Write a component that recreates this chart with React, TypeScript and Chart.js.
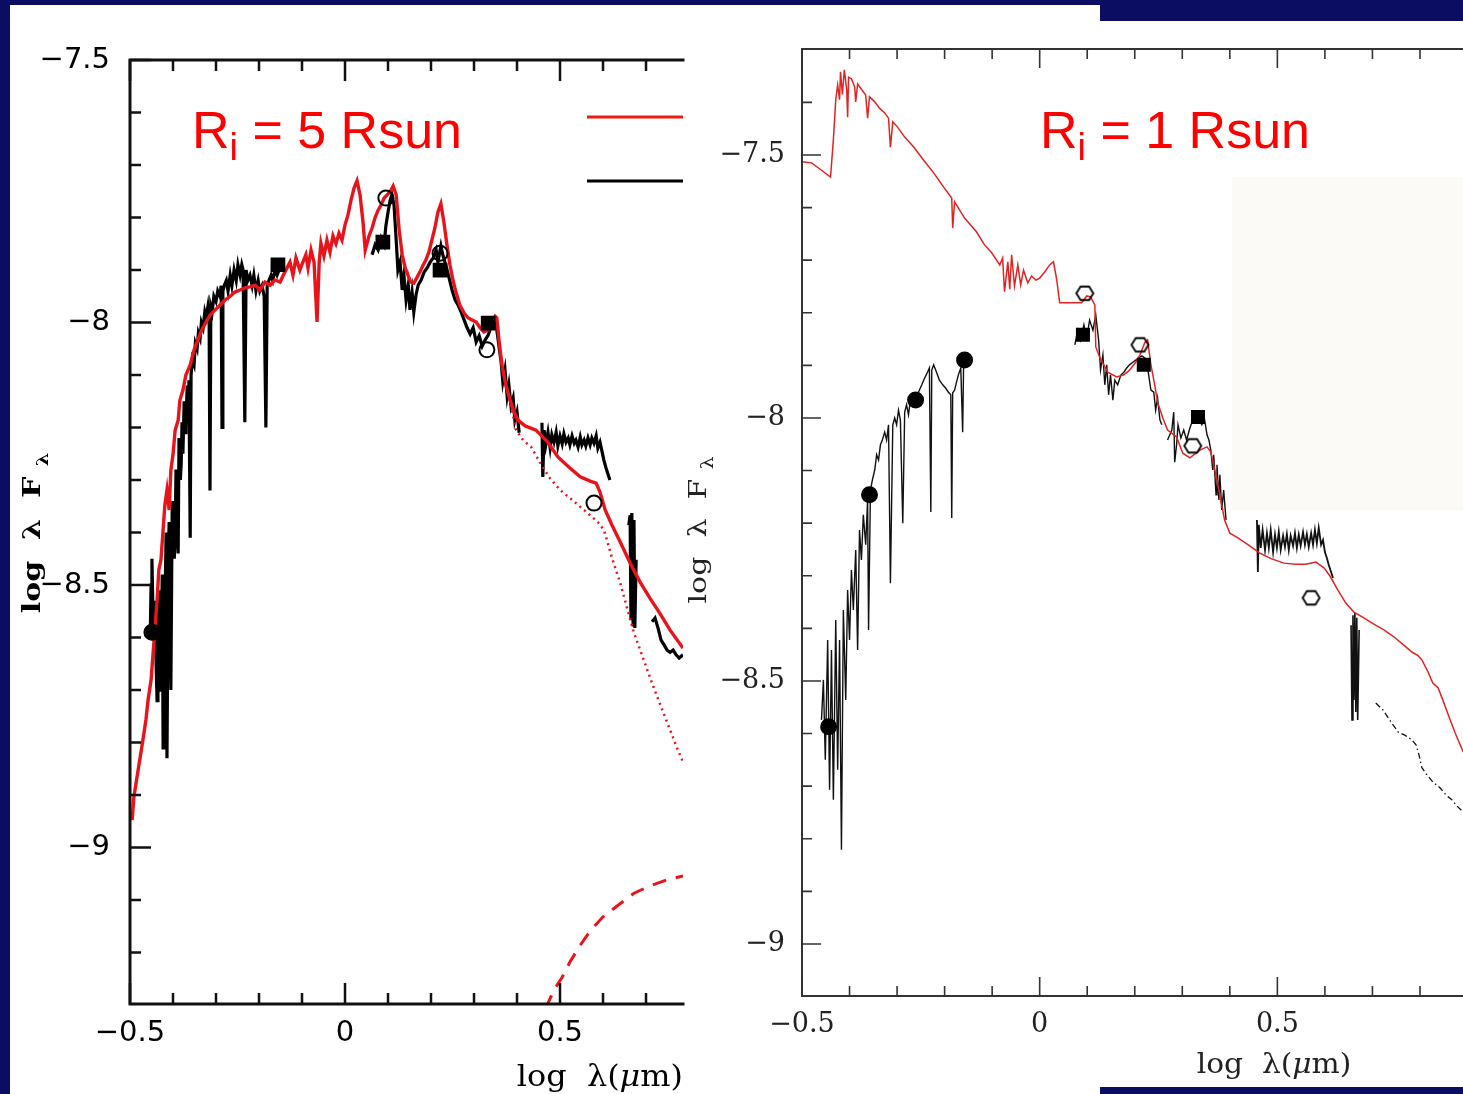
import React, { useEffect, useRef } from "react";
import { Chart, registerables } from "chart.js";

Chart.register(...registerables);

type P = [number, number];

// ================= LEFT PANEL  (Ri = 5 Rsun) =================
const leftXRange = [-0.5, 0.786];
const leftYRange = [-9.298, -7.5];
const leftXMajorTicks = [-0.5, 0, 0.5];
const leftXTickLabels = ["−0.5", "0", "0.5"];
const leftXMinorTicks = [-0.4, -0.3, -0.2, -0.1, 0.1, 0.2, 0.3, 0.4, 0.6, 0.7];
const leftYMajorTicks = [-9, -8.5, -8, -7.5];
const leftYTickLabels = ["−9", "−8.5", "−8", "−7.5"];
const leftYMinorTicks = [-9.2, -9.1, -8.9, -8.8, -8.7, -8.6, -8.4, -8.3, -8.2, -8.1, -7.9, -7.8, -7.7, -7.6];

// observed spectra (black)
const leftObsOptical: P[] = [
  [-0.453, -8.6], [-0.451, -8.5], [-0.449, -8.45], [-0.446, -8.58], [-0.442, -8.53], [-0.439, -8.66],
  [-0.437, -8.72], [-0.435, -8.55], [-0.433, -8.51], [-0.43, -8.7], [-0.428, -8.64], [-0.425, -8.48],
  [-0.423, -8.81], [-0.421, -8.6], [-0.419, -8.56], [-0.416, -8.4], [-0.414, -8.83], [-0.411, -8.45],
  [-0.409, -8.38], [-0.407, -8.55], [-0.405, -8.7], [-0.402, -8.36], [-0.4, -8.34], [-0.397, -8.45],
  [-0.395, -8.41], [-0.393, -8.28], [-0.391, -8.36], [-0.388, -8.44], [-0.386, -8.22], [-0.383, -8.3],
  [-0.381, -8.27], [-0.379, -8.19], [-0.377, -8.25], [-0.374, -8.15], [-0.372, -8.21], [-0.37, -8.2],
  [-0.367, -8.12], [-0.365, -8.16], [-0.363, -8.11], [-0.36, -8.41], [-0.358, -8.1], [-0.355, -8.07],
  [-0.351, -8.08], [-0.348, -8.04], [-0.344, -8.05], [-0.341, -8.02], [-0.337, -8.03], [-0.334, -8.0],
  [-0.33, -8.01], [-0.326, -7.98], [-0.323, -7.99], [-0.319, -7.97], [-0.316, -8.0], [-0.314, -8.32],
  [-0.312, -7.97], [-0.309, -7.98], [-0.305, -7.95], [-0.3, -7.96], [-0.296, -7.94], [-0.291, -7.95],
  [-0.288, -7.93], [-0.286, -8.2], [-0.284, -7.94], [-0.281, -7.93], [-0.276, -7.92], [-0.272, -7.94],
  [-0.267, -7.91], [-0.263, -7.93], [-0.258, -7.9], [-0.253, -7.92], [-0.249, -7.89], [-0.244, -7.91],
  [-0.24, -7.89], [-0.237, -7.9], [-0.233, -8.19], [-0.23, -7.9], [-0.226, -7.92], [-0.221, -7.91],
  [-0.216, -7.93], [-0.212, -7.91], [-0.207, -7.94], [-0.202, -7.92], [-0.198, -7.94], [-0.193, -7.93],
  [-0.188, -7.95], [-0.184, -8.2], [-0.181, -7.93], [-0.177, -7.92], [-0.172, -7.91], [-0.168, -7.92],
  [-0.163, -7.9], [-0.158, -7.91], [-0.151, -7.895],
];
const leftObsNearIR: P[] = [
  [0.063, -7.871], [0.07, -7.852], [0.077, -7.862], [0.084, -7.839], [0.091, -7.852], [0.095, -7.816],
  [0.1, -7.79], [0.105, -7.767], [0.109, -7.757], [0.114, -7.776], [0.119, -7.843], [0.123, -7.9],
  [0.128, -7.885], [0.133, -7.938], [0.137, -7.91], [0.142, -7.957], [0.147, -7.929], [0.151, -7.976],
  [0.156, -7.942], [0.16, -7.98], [0.165, -7.948], [0.17, -7.929], [0.177, -7.919], [0.184, -7.904],
  [0.191, -7.896], [0.198, -7.885], [0.205, -7.877], [0.212, -7.862], [0.216, -7.885], [0.223, -7.854],
  [0.228, -7.873], [0.235, -7.892], [0.242, -7.915], [0.249, -7.938], [0.256, -7.957], [0.263, -7.967],
  [0.27, -7.98], [0.277, -7.995], [0.284, -8.01], [0.291, -8.022], [0.298, -8.01], [0.305, -8.037],
  [0.312, -8.025], [0.319, -8.045], [0.326, -8.033], [0.333, -8.024], [0.34, -8.007], [0.347, -7.999],
  [0.353, -8.014], [0.358, -8.045], [0.363, -8.075], [0.367, -8.113], [0.372, -8.09], [0.377, -8.14],
  [0.381, -8.119], [0.386, -8.159], [0.391, -8.144], [0.395, -8.186], [0.4, -8.17], [0.405, -8.21],
];
const leftObsIRS: P[] = [
  [0.458, -8.191], [0.46, -8.294], [0.463, -8.205], [0.467, -8.233], [0.472, -8.209], [0.477, -8.239],
  [0.481, -8.214], [0.486, -8.228], [0.491, -8.209], [0.495, -8.235], [0.5, -8.216], [0.505, -8.231],
  [0.509, -8.212], [0.514, -8.228], [0.519, -8.22], [0.523, -8.233], [0.528, -8.216], [0.533, -8.23],
  [0.537, -8.224], [0.542, -8.237], [0.547, -8.218], [0.551, -8.233], [0.556, -8.224], [0.56, -8.235],
  [0.565, -8.22], [0.57, -8.233], [0.574, -8.22], [0.579, -8.23], [0.584, -8.216], [0.588, -8.239],
  [0.593, -8.228], [0.598, -8.247], [0.602, -8.262], [0.607, -8.277], [0.612, -8.29], [0.616, -8.3],
];
const leftObsSpikes: P[] = [
  [0.66, -8.386], [0.663, -8.367], [0.665, -8.567], [0.667, -8.363], [0.67, -8.576], [0.672, -8.376],
  [0.674, -8.582], [0.677, -8.452],
];
const leftObsTail: P[] = [
  [0.714, -8.57], [0.721, -8.563], [0.728, -8.582], [0.735, -8.605], [0.742, -8.614], [0.749, -8.624],
  [0.756, -8.628], [0.763, -8.624], [0.77, -8.633], [0.777, -8.639], [0.786, -8.633],
];

// models (red)
const leftModelTotal: P[] = [
  [-0.495, -8.948], [-0.491, -8.904], [-0.481, -8.852], [-0.47, -8.795], [-0.463, -8.757], [-0.458, -8.719],
  [-0.451, -8.681], [-0.444, -8.605], [-0.437, -8.529], [-0.433, -8.471], [-0.428, -8.452], [-0.423, -8.395],
  [-0.419, -8.348], [-0.414, -8.319], [-0.409, -8.357], [-0.405, -8.281], [-0.4, -8.252], [-0.395, -8.205],
  [-0.388, -8.186], [-0.384, -8.148], [-0.377, -8.129], [-0.37, -8.1], [-0.36, -8.081], [-0.351, -8.052],
  [-0.342, -8.033], [-0.333, -8.014], [-0.323, -7.999], [-0.314, -7.986], [-0.302, -7.976], [-0.291, -7.967],
  [-0.279, -7.957], [-0.267, -7.95], [-0.256, -7.942], [-0.244, -7.938], [-0.233, -7.934], [-0.221, -7.932],
  [-0.209, -7.929], [-0.198, -7.938], [-0.186, -7.923], [-0.174, -7.929], [-0.163, -7.919], [-0.151, -7.923],
  [-0.14, -7.904], [-0.128, -7.885], [-0.121, -7.91], [-0.114, -7.877], [-0.105, -7.9], [-0.098, -7.885],
  [-0.091, -7.871], [-0.086, -7.896], [-0.079, -7.862], [-0.072, -7.885], [-0.065, -7.999], [-0.06, -7.885],
  [-0.056, -7.849], [-0.049, -7.873], [-0.042, -7.843], [-0.035, -7.866], [-0.028, -7.835], [-0.021, -7.85],
  [-0.014, -7.83], [-0.007, -7.843], [0.0, -7.814], [0.007, -7.795], [0.014, -7.767], [0.021, -7.744],
  [0.028, -7.73], [0.035, -7.757], [0.042, -7.81], [0.047, -7.862], [0.056, -7.835], [0.063, -7.82],
  [0.07, -7.8], [0.077, -7.786], [0.084, -7.776], [0.091, -7.763], [0.098, -7.757], [0.105, -7.751],
  [0.112, -7.74], [0.119, -7.757], [0.126, -7.824], [0.133, -7.871], [0.14, -7.896], [0.147, -7.911],
  [0.153, -7.923], [0.16, -7.925], [0.167, -7.915], [0.174, -7.904], [0.181, -7.892], [0.188, -7.881],
  [0.195, -7.866], [0.202, -7.843], [0.209, -7.82], [0.216, -7.79], [0.223, -7.774], [0.23, -7.809],
  [0.237, -7.852], [0.244, -7.89], [0.251, -7.919], [0.258, -7.942], [0.267, -7.967], [0.277, -7.982],
  [0.286, -7.991], [0.295, -7.995], [0.305, -7.999], [0.314, -8.01], [0.323, -8.018], [0.333, -8.014],
  [0.342, -7.999], [0.349, -7.988], [0.353, -7.991], [0.358, -8.033], [0.365, -8.081], [0.374, -8.119],
  [0.384, -8.148], [0.393, -8.17], [0.402, -8.186], [0.419, -8.197], [0.444, -8.205], [0.472, -8.228],
  [0.495, -8.256], [0.523, -8.277], [0.547, -8.294], [0.57, -8.302], [0.584, -8.306], [0.593, -8.323],
  [0.605, -8.357], [0.621, -8.386], [0.64, -8.418], [0.663, -8.458], [0.686, -8.494], [0.709, -8.525],
  [0.733, -8.555], [0.756, -8.586], [0.786, -8.62],
];
const leftModelStar: P[] = [
  [0.36, -8.056], [0.372, -8.11], [0.384, -8.151], [0.398, -8.205], [0.414, -8.224], [0.433, -8.237],
  [0.453, -8.266], [0.474, -8.294], [0.5, -8.319], [0.537, -8.344], [0.57, -8.367], [0.588, -8.38],
  [0.602, -8.395], [0.609, -8.414], [0.621, -8.449], [0.64, -8.496], [0.656, -8.544], [0.672, -8.591],
  [0.693, -8.639], [0.714, -8.687], [0.735, -8.732], [0.756, -8.776], [0.772, -8.81], [0.786, -8.837],
];
const leftModelDisk: P[] = [
  [0.467, -9.306], [0.486, -9.271], [0.505, -9.247], [0.523, -9.218], [0.547, -9.186], [0.572, -9.157],
  [0.6, -9.132], [0.635, -9.11], [0.672, -9.087], [0.709, -9.073], [0.747, -9.062], [0.786, -9.054],
];

// photometry
const leftPhotCircles: P[] = [[-0.449, -8.59]];
const leftPhotSquares: P[] = [[-0.156, -7.89], [0.088, -7.847], [0.221, -7.9], [0.333, -8.001]];
const leftPhotOpen: P[] = [[0.095, -7.763], [0.221, -7.868], [0.33, -8.052], [0.579, -8.344]];

// ================= RIGHT PANEL  (Ri = 1 Rsun) =================
const rightXRange = [-0.5, 0.8905];
const rightYRange = [-9.099, -7.2985];
const rightXMajorTicks = [-0.5, 0, 0.5];
const rightXTickLabels = ["−0.5", "0", "0.5"];
const rightXMinorTicks = [-0.4, -0.3, -0.2, -0.1, 0.1, 0.2, 0.3, 0.4, 0.6, 0.7, 0.8];
const rightYMajorTicks = [-9, -8.5, -8, -7.5];
const rightYTickLabels = ["−9", "−8.5", "−8", "−7.5"];
const rightYMinorTicks = [-8.9, -8.8, -8.7, -8.6, -8.4, -8.3, -8.2, -8.1, -7.9, -7.8, -7.7, -7.6, -7.4];

const rightObsOptical: P[] = [
  [-0.459, -8.574], [-0.455, -8.498], [-0.451, -8.65], [-0.446, -8.422], [-0.442, -8.707], [-0.438, -8.441],
  [-0.434, -8.726], [-0.429, -8.384], [-0.425, -8.669], [-0.421, -8.422], [-0.417, -8.821], [-0.413, -8.365],
  [-0.408, -8.536], [-0.404, -8.327], [-0.4, -8.422], [-0.396, -8.289], [-0.392, -8.365], [-0.387, -8.251],
  [-0.383, -8.441], [-0.379, -8.213], [-0.375, -8.27], [-0.371, -8.184], [-0.366, -8.241], [-0.362, -8.156],
  [-0.36, -8.403], [-0.356, -8.137], [-0.352, -8.118], [-0.347, -8.099], [-0.343, -8.07], [-0.339, -8.08],
  [-0.335, -8.051], [-0.331, -8.042], [-0.326, -8.027], [-0.322, -8.042], [-0.318, -8.013], [-0.314, -8.314],
  [-0.309, -8.013], [-0.305, -8.0], [-0.301, -8.013], [-0.297, -7.985], [-0.293, -8.004], [-0.288, -8.2],
  [-0.284, -7.989], [-0.28, -7.975], [-0.276, -7.994], [-0.272, -7.966], [-0.267, -7.975], [-0.261, -7.962],
  [-0.255, -7.951], [-0.248, -7.937], [-0.242, -7.924], [-0.236, -7.913], [-0.232, -7.905], [-0.229, -8.179],
  [-0.227, -7.909], [-0.223, -7.899], [-0.217, -7.913], [-0.211, -7.928], [-0.204, -7.937], [-0.198, -7.943],
  [-0.192, -7.951], [-0.187, -7.956], [-0.185, -8.19], [-0.183, -7.952], [-0.179, -7.947], [-0.175, -7.932],
  [-0.171, -7.918], [-0.166, -7.905], [-0.162, -8.027], [-0.16, -7.894], [-0.156, -7.886], [-0.152, -7.882],
];
const rightObsJ: P[] = [
  [0.074, -7.861], [0.08, -7.833], [0.086, -7.852], [0.093, -7.823], [0.099, -7.848], [0.105, -7.814],
  [0.112, -7.833], [0.118, -7.804], [0.124, -7.852], [0.128, -7.909], [0.133, -7.88], [0.137, -7.937],
  [0.141, -7.899], [0.145, -7.956], [0.149, -7.918], [0.154, -7.966], [0.158, -7.928], [0.164, -7.937],
  [0.171, -7.918], [0.177, -7.913], [0.183, -7.905], [0.189, -7.899], [0.196, -7.894], [0.202, -7.89],
  [0.208, -7.886], [0.215, -7.882], [0.221, -7.886], [0.227, -7.905], [0.234, -7.947], [0.24, -7.951],
  [0.244, -7.985], [0.248, -7.962], [0.253, -8.004], [0.257, -8.013],
];
const rightObsK: P[] = [
  [0.269, -8.042], [0.278, -8.023], [0.282, -7.989], [0.284, -8.084], [0.288, -8.051], [0.291, -8.013],
  [0.297, -8.038], [0.303, -8.023], [0.309, -8.042], [0.316, -8.019], [0.322, -8.004], [0.328, -7.994],
  [0.335, -8.0], [0.341, -8.013], [0.347, -8.004], [0.352, -8.032], [0.356, -8.042], [0.36, -8.061],
  [0.364, -8.099], [0.366, -8.07], [0.371, -8.146], [0.373, -8.089], [0.377, -8.156], [0.379, -8.108],
  [0.383, -8.175], [0.387, -8.137], [0.392, -8.194],
];
const rightObsIRS: P[] = [
  [0.457, -8.194], [0.459, -8.293], [0.461, -8.203], [0.465, -8.247], [0.469, -8.213], [0.474, -8.251],
  [0.478, -8.219], [0.482, -8.247], [0.486, -8.213], [0.491, -8.255], [0.495, -8.222], [0.499, -8.247],
  [0.503, -8.217], [0.507, -8.251], [0.512, -8.224], [0.516, -8.245], [0.52, -8.221], [0.524, -8.251],
  [0.528, -8.224], [0.533, -8.243], [0.537, -8.219], [0.541, -8.247], [0.545, -8.222], [0.549, -8.243],
  [0.554, -8.217], [0.558, -8.241], [0.562, -8.221], [0.566, -8.245], [0.571, -8.219], [0.575, -8.241],
  [0.579, -8.213], [0.583, -8.238], [0.587, -8.209], [0.592, -8.241], [0.596, -8.232], [0.6, -8.255],
  [0.604, -8.266], [0.608, -8.279], [0.613, -8.293], [0.617, -8.304],
];
const rightObsSpikes: P[] = [
  [0.655, -8.394], [0.657, -8.574], [0.659, -8.375], [0.661, -8.536], [0.663, -8.371], [0.665, -8.559],
  [0.667, -8.38], [0.669, -8.574], [0.672, -8.403],
];
const rightObsDashDot: P[] = [
  [0.707, -8.542], [0.722, -8.555], [0.739, -8.578], [0.754, -8.597], [0.768, -8.603], [0.783, -8.612],
  [0.792, -8.622], [0.798, -8.641], [0.804, -8.665], [0.815, -8.679], [0.827, -8.692], [0.842, -8.703],
  [0.855, -8.717], [0.867, -8.726], [0.878, -8.738], [0.891, -8.749],
];
const rightModel: P[] = [
  [-0.5, -7.513], [-0.48, -7.515], [-0.459, -7.529], [-0.44, -7.542], [-0.434, -7.471], [-0.429, -7.395],
  [-0.425, -7.367], [-0.421, -7.395], [-0.419, -7.342], [-0.415, -7.385], [-0.411, -7.338], [-0.406, -7.376],
  [-0.404, -7.428], [-0.402, -7.352], [-0.396, -7.355], [-0.389, -7.371], [-0.387, -7.399], [-0.383, -7.365],
  [-0.375, -7.375], [-0.366, -7.386], [-0.362, -7.43], [-0.358, -7.389], [-0.347, -7.399], [-0.337, -7.411],
  [-0.326, -7.42], [-0.318, -7.43], [-0.314, -7.485], [-0.309, -7.437], [-0.299, -7.447], [-0.284, -7.466],
  [-0.265, -7.485], [-0.244, -7.51], [-0.223, -7.534], [-0.202, -7.561], [-0.185, -7.582], [-0.183, -7.639],
  [-0.179, -7.589], [-0.158, -7.62], [-0.133, -7.646], [-0.116, -7.671], [-0.101, -7.686], [-0.084, -7.709],
  [-0.078, -7.696], [-0.074, -7.76], [-0.067, -7.703], [-0.063, -7.755], [-0.059, -7.69], [-0.053, -7.749],
  [-0.046, -7.709], [-0.04, -7.747], [-0.034, -7.719], [-0.025, -7.743], [-0.017, -7.73], [-0.008, -7.738],
  [0.0, -7.734], [0.011, -7.722], [0.021, -7.709], [0.029, -7.703], [0.036, -7.738], [0.042, -7.781],
  [0.059, -7.781], [0.074, -7.781], [0.088, -7.781], [0.099, -7.768], [0.107, -7.77], [0.116, -7.785],
  [0.118, -7.865], [0.126, -7.884], [0.143, -7.913], [0.162, -7.922], [0.177, -7.918], [0.189, -7.909],
  [0.202, -7.894], [0.211, -7.88], [0.221, -7.857], [0.227, -7.852], [0.234, -7.899], [0.242, -7.937],
  [0.248, -7.97], [0.259, -8.0], [0.269, -8.023], [0.288, -8.036], [0.301, -8.067], [0.316, -8.076],
  [0.337, -8.061], [0.352, -8.055], [0.36, -8.065], [0.373, -8.118], [0.389, -8.194], [0.4, -8.219],
  [0.417, -8.228], [0.438, -8.241], [0.463, -8.257], [0.488, -8.268], [0.514, -8.276], [0.539, -8.278],
  [0.56, -8.278], [0.581, -8.274], [0.598, -8.285], [0.611, -8.301], [0.627, -8.327], [0.644, -8.352],
  [0.661, -8.369], [0.682, -8.38], [0.703, -8.392], [0.724, -8.403], [0.745, -8.416], [0.766, -8.432],
  [0.783, -8.445], [0.796, -8.452], [0.804, -8.46], [0.817, -8.483], [0.827, -8.504], [0.838, -8.513],
  [0.848, -8.536], [0.861, -8.568], [0.874, -8.599], [0.891, -8.635],
];
const rightPhotCircles: P[] = [[-0.444, -8.587], [-0.358, -8.146], [-0.261, -7.966], [-0.158, -7.89]];
const rightPhotSquares: P[] = [[0.091, -7.842], [0.219, -7.899], [0.333, -7.998]];
const rightPhotHexagons: P[] = [[0.095, -7.763], [0.211, -7.861], [0.322, -8.053], [0.571, -8.342]];

// ================= helpers =================
const NAVY = "#0b0d62";
const toXY = (pts: P[]) => pts.map(([x, y]) => ({ x, y }));

function lineSet(pts: P[], color: string, width: number, dash: number[] = [], order = 2) {
  return {
    data: toXY(pts), showLine: true, borderColor: color, backgroundColor: color,
    borderWidth: width, borderDash: dash, pointRadius: 0, pointHoverRadius: 0,
    fill: false, tension: 0, order,
  };
}
function markerSet(pts: P[], style: any, radius: number, fill: string, bw = 2) {
  return {
    data: toXY(pts), showLine: false, pointStyle: style, pointRadius: radius,
    pointHoverRadius: radius, pointBackgroundColor: fill, pointBorderColor: "#000",
    pointBorderWidth: bw, order: 0,
  };
}
function hexagonImage(r: number, lw: number) {
  const size = Math.ceil(2 * r + lw + 2);
  const c = document.createElement("canvas");
  c.width = size; c.height = size;
  const ctx = c.getContext("2d")!;
  ctx.strokeStyle = "#000"; ctx.lineWidth = lw;
  ctx.beginPath();
  for (let i = 0; i < 6; i++) {
    const a = (i * Math.PI) / 3;
    const px = size / 2 + r * Math.cos(a);
    const py = size / 2 + r * 0.92 * Math.sin(a);
    if (i === 0) ctx.moveTo(px, py); else ctx.lineTo(px, py);
  }
  ctx.closePath(); ctx.stroke();
  return c;
}

type Seg = { t: string; font: string; dy?: number };
function drawSegs(ctx: CanvasRenderingContext2D, segs: Seg[], x: number, y: number,
  o: { align?: string; stretch?: number; rotate?: boolean; color: string }) {
  ctx.save();
  ctx.translate(x, y);
  if (o.rotate) ctx.rotate(-Math.PI / 2);
  ctx.scale(o.stretch ?? 1, 1);
  ctx.fillStyle = o.color;
  ctx.textBaseline = "alphabetic";
  ctx.textAlign = "left";
  let total = 0;
  const ws = segs.map((s) => { ctx.font = s.font; const w = ctx.measureText(s.t).width; total += w; return w; });
  let cx = o.align === "center" ? -total / 2 : o.align === "right" ? -total : 0;
  segs.forEach((s, i) => { ctx.font = s.font; ctx.fillText(s.t, cx, s.dy ?? 0); cx += ws[i]; });
  ctx.restore();
}

function framePlugin(id: string, f: any) {
  return {
    id,
    afterDatasetsDraw(chart: any) {
      const ctx: CanvasRenderingContext2D = chart.ctx;
      const { left, right, top, bottom } = chart.chartArea;
      const xs = chart.scales.x, ys = chart.scales.y;
      ctx.save();
      ctx.strokeStyle = f.color; ctx.lineWidth = f.width; ctx.lineCap = "square";
      ctx.beginPath();
      ctx.moveTo(left, top); ctx.lineTo(right, top);
      ctx.moveTo(left, top); ctx.lineTo(left, bottom);
      ctx.moveTo(left, bottom); ctx.lineTo(right, bottom);
      ctx.stroke();
      ctx.lineCap = "butt";
      ctx.lineWidth = f.tickWidth;
      ctx.beginPath();
      const xt = (vals: number[], len: number) => vals.forEach((v) => {
        const p = xs.getPixelForValue(v);
        ctx.moveTo(p, bottom); ctx.lineTo(p, bottom - len);
        ctx.moveTo(p, top); ctx.lineTo(p, top + len);
      });
      const yt = (vals: number[], len: number) => vals.forEach((v) => {
        const p = ys.getPixelForValue(v);
        ctx.moveTo(left, p); ctx.lineTo(left + len, p);
      });
      xt(f.xMinor, f.minorLen); xt(f.xMajor, f.majorLen);
      yt(f.yMinor, f.minorLen); yt(f.yMajor, f.majorLen);
      ctx.stroke();
      ctx.restore();
      f.texts(ctx, chart);
    },
  };
}

function scalesFor(xr: number[], yr: number[], xMaj: number[], xLab: string[], yMaj: number[], yLab: string[],
  font: any, color: string, padX: number, padY: number, wY: number, hX: number) {
  return {
    x: {
      type: "linear", min: xr[0], max: xr[1],
      grid: { display: false, drawTicks: false }, border: { display: false },
      afterBuildTicks: (s: any) => { s.ticks = xMaj.map((v) => ({ value: v })); },
      afterFit: (s: any) => { s.height = hX; s.paddingLeft = 0; s.paddingRight = 0; },
      ticks: { autoSkip: false, maxRotation: 0, minRotation: 0, padding: padX, color, font,
        callback: (_v: any, i: number) => xLab[i] },
    },
    y: {
      type: "linear", min: yr[0], max: yr[1],
      grid: { display: false, drawTicks: false }, border: { display: false },
      afterBuildTicks: (s: any) => { s.ticks = yMaj.map((v) => ({ value: v })); },
      afterFit: (s: any) => { s.width = wY; s.paddingTop = 0; s.paddingBottom = 0; },
      ticks: { autoSkip: false, padding: padY, color, font, callback: (_v: any, i: number) => yLab[i] },
    },
  };
}

const baseOptions = {
  animation: false, responsive: false, maintainAspectRatio: false, events: [],
  plugins: { legend: { display: false }, tooltip: { enabled: false }, title: { display: false } },
};

function leftConfig(): any {
  const RED = "#e8141c";
  const BLK = "#000";
  const serif = '"DejaVu Serif"';
  return {
    type: "scatter",
    data: {
      datasets: [
        lineSet(leftObsOptical, BLK, 3.2, [], 3),
        lineSet(leftObsNearIR, BLK, 3.2, [], 3),
        lineSet(leftObsIRS, BLK, 3.2, [], 3),
        lineSet(leftObsSpikes, BLK, 3.2, [], 3),
        lineSet(leftObsTail, BLK, 3.2, [], 3),
        lineSet(leftModelTotal, RED, 3.4, [], 2),
        lineSet(leftModelStar, RED, 2.5, [2, 4], 2),
        lineSet(leftModelDisk, RED, 3, [14, 10], 2),
        markerSet(leftPhotCircles, "circle", 7.5, "#000"),
        markerSet(leftPhotSquares, "rect", 9, "#000"),
        markerSet(leftPhotOpen, "circle", 7.5, "rgba(255,255,255,0)", 2),
      ],
    },
    options: {
      ...baseOptions,
      layout: { autoPadding: false, padding: { left: 0, top: 55, right: 7, bottom: 0 } },
      scales: scalesFor(leftXRange, leftYRange, leftXMajorTicks, leftXTickLabels, leftYMajorTicks, leftYTickLabels,
        { family: '"DejaVu Sans"', size: 29 }, "#000", 12, 20, 120, 90),
    },
    plugins: [framePlugin("leftFrame", {
      color: "#111", width: 3, tickWidth: 2.5, majorLen: 21, minorLen: 11,
      xMinor: leftXMinorTicks, xMajor: leftXMajorTicks, yMinor: leftYMinorTicks, yMajor: leftYMajorTicks,
      texts: (ctx: CanvasRenderingContext2D, chart: any) => {
        const { right } = chart.chartArea;
        ctx.save();
        ctx.lineWidth = 3;
        ctx.strokeStyle = "#f01a10";
        ctx.beginPath(); ctx.moveTo(577, 112); ctx.lineTo(right, 112); ctx.stroke();
        ctx.strokeStyle = "#000";
        ctx.beginPath(); ctx.moveTo(577, 176); ctx.lineTo(right, 176); ctx.stroke();
        ctx.restore();
        drawSegs(ctx, [
          { t: "R", font: '52px "Liberation Sans"' },
          { t: "i", font: '38px "Liberation Sans"', dy: 12 },
          { t: " = 5 Rsun", font: '52px "Liberation Sans"' },
        ], 182, 143, { color: "#ff0000" });
        drawSegs(ctx, [
          { t: "log  λ  F ", font: `bold 25px ${serif}` },
          { t: "λ", font: `bold 16px ${serif}`, dy: 8 },
        ], 30, 528, { rotate: true, align: "center", stretch: 1.2, color: "#000" });
        drawSegs(ctx, [
          { t: "log  λ(", font: `29px ${serif}` },
          { t: "μ", font: `italic 29px ${serif}` },
          { t: "m)", font: `29px ${serif}` },
        ], right, 1081, { align: "right", stretch: 1.1, color: "#000" });
      },
    })],
  };
}

function rightConfig(): any {
  const RED = "#e02424";
  const BLK = "#111";
  const serif = '"DejaVu Serif"';
  const hex = hexagonImage(8.5, 1.8);
  return {
    type: "scatter",
    data: {
      datasets: [
        lineSet(rightObsOptical, BLK, 1.4, [], 3),
        lineSet(rightObsJ, BLK, 1.4, [], 3),
        lineSet(rightObsK, BLK, 1.4, [], 3),
        lineSet(rightObsIRS, BLK, 1.8, [], 3),
        lineSet(rightObsSpikes, BLK, 1.6, [], 3),
        lineSet(rightObsDashDot, BLK, 1.3, [6, 3, 1.5, 3], 3),
        lineSet(rightModel, RED, 1.5, [], 2),
        markerSet(rightPhotCircles, "circle", 7.5, "#000"),
        markerSet(rightPhotSquares, "rect", 8.5, "#000"),
        markerSet(rightPhotHexagons, hex, 9, "rgba(0,0,0,0)", 1.5),
      ],
    },
    options: {
      ...baseOptions,
      layout: { autoPadding: false, padding: { left: 0, top: 44, right: 0, bottom: 0 } },
      scales: scalesFor(rightXRange, rightYRange, rightXMajorTicks, rightXTickLabels, rightYMajorTicks, rightYTickLabels,
        { family: serif, size: 27 }, "#222", 13, 17, 122, 98),
    },
    plugins: [framePlugin("rightFrame", {
      color: "#333", width: 2, tickWidth: 1.6, majorLen: 19, minorLen: 10,
      xMinor: rightXMinorTicks, xMajor: rightXMajorTicks, yMinor: rightYMinorTicks, yMajor: rightYMajorTicks,
      texts: (ctx: CanvasRenderingContext2D, chart: any) => {
        drawSegs(ctx, [
          { t: "R", font: '52px "Liberation Sans"' },
          { t: "i", font: '38px "Liberation Sans"', dy: 12 },
          { t: " = 1 Rsun", font: '52px "Liberation Sans"' },
        ], 360, 143, { color: "#ff0000" });
        drawSegs(ctx, [
          { t: "log  λ  F ", font: `24px ${serif}` },
          { t: "λ", font: `16px ${serif}`, dy: 7 },
        ], 26, 525, { rotate: true, align: "center", stretch: 1.25, color: "#222" });
        drawSegs(ctx, [
          { t: "log  λ(", font: `27px ${serif}` },
          { t: "μ", font: `italic 27px ${serif}` },
          { t: "m)", font: `27px ${serif}` },
        ], 594, 1068, { align: "center", stretch: 1.1, color: "#222" });
      },
    })],
  };
}

export default function App() {
  const leftRef = useRef<HTMLCanvasElement>(null);
  const rightRef = useRef<HTMLCanvasElement>(null);
  useEffect(() => {
    const c1 = new Chart(leftRef.current!, leftConfig());
    const c2 = new Chart(rightRef.current!, rightConfig());
    return () => { c1.destroy(); c2.destroy(); };
  }, []);
  const abs = (l: number, t: number, w: number, h: number, bg: string): React.CSSProperties =>
    ({ position: "absolute", left: l, top: t, width: w, height: h, background: bg });
  return (
    <div style={{ position: "fixed", left: 0, top: 0, width: 1463, height: 1094, background: NAVY, overflow: "hidden" }}>
      <div style={abs(10, 5, 1453, 1089, "#ffffff")} />
      <div style={abs(1100, 0, 363, 21, NAVY)} />
      <div style={abs(1100, 1087, 363, 7, NAVY)} />
      <div style={abs(1232, 177, 231, 333, "#fbfaf6")} />
      <canvas ref={leftRef} width={680} height={1089}
        style={{ position: "absolute", left: 10, top: 5, width: 680, height: 1089 }} />
      <canvas ref={rightRef} width={783} height={1089}
        style={{ position: "absolute", left: 680, top: 5, width: 783, height: 1089 }} />
    </div>
  );
}
